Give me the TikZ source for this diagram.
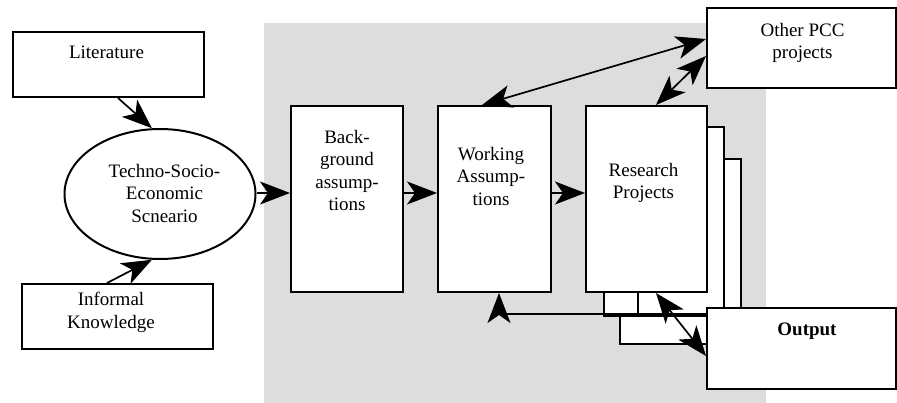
\documentclass[tikz,border=0pt]{standalone}
\usepackage{fontspec}
\setmainfont{Liberation Serif}
\usetikzlibrary{arrows.meta,shapes.geometric}
\definecolor{panelgray}{RGB}{221,221,221}
\tikzset{
  box/.style={draw, line width=2pt, fill=white, inner sep=0pt},
  oval/.style={ellipse, draw, line width=2pt, fill=white, inner sep=0pt},
  lbl/.style={align=center, anchor=north, inner sep=0pt,
              font=\fontsize{19}{22.5}\selectfont},
  head/.tip={Stealth[length=30pt,width=23pt,inset=8pt]},
  conn/.style={line width=1.7pt, -head},
  biconn/.style={line width=1.7pt, head-head},
}
\begin{document}
\begin{tikzpicture}[x=1pt,y=-1pt]
\useasboundingbox (0,0) rectangle (897,403);

% shaded working area
\fill[panelgray] (264,23) rectangle (766,403);

% stacked project sheets behind the main box
\draw[line width=2pt, fill=white] (620,159) rectangle (741,344);
\draw[line width=2pt, fill=white] (604,127) rectangle (724,316);
\draw[line width=2pt] (638,292) -- (638,316);

% nodes
\node[box, minimum width=191, minimum height=65] (lit) at (108.5,64.5) {};
\node[oval, minimum width=191, minimum height=130] (ell) at (160,194) {};
\node[box, minimum width=191, minimum height=65] (inf) at (117.5,316.5) {};
\node[box, minimum width=112, minimum height=186] (back) at (347,199) {};
\node[box, minimum width=113, minimum height=186] (work) at (494.5,199) {};
\node[box, minimum width=121, minimum height=186] (res) at (646.5,199) {};
\node[box, minimum width=188.5, minimum height=80] (other) at (801.25,48) {};
\node[box, minimum width=188.5, minimum height=81] (out) at (801.25,348.5) {};

% labels
\node[lbl] (lit-t) at (106.5,46) {Literature};
\node[lbl] (ell-t) at (164.5,164) {Techno-Socio-\\Economic\\Scneario};
\node[lbl] (inf-t) at (111,292) {Informal\\Knowledge};
\node[lbl] (back-t) at (347,130) {Back-\\ground\\assump-\\tions};
\node[lbl] (work-t) at (491,147) {Working\\Assump-\\tions};
\node[lbl] (res-t) at (643.5,163) {Research\\Projects};
\node[lbl] (other-t) at (802.5,23) {Other PCC\\projects};
\node[lbl] (out-t) at (807,323) {\bfseries Output};

% connectors
\draw[conn] ([xshift=9.5]lit.south) -- (ell.97);
\draw[conn] ([xshift=-10.5]inf.north) -- (ell.263);
\draw[conn] ([yshift=1]ell.east) -- ([yshift=6]back.west);
\draw[conn] ([yshift=6]back.east) -- ([yshift=6]work.west);
\draw[conn] ([yshift=6]work.east) -- ([yshift=6]res.west);
\draw[biconn] ([xshift=-12.5]work.north) -- ([yshift=-32]other.north west);
\draw[biconn] ([xshift=9.5]res.north) -- ([yshift=-49]other.north west);
\draw[biconn] ([xshift=9.5]res.south) -- ([yshift=-49]out.north west);
\draw[conn] ([yshift=-7]out.north west) -| ([xshift=4.5]work.south);
\end{tikzpicture}
\end{document}
